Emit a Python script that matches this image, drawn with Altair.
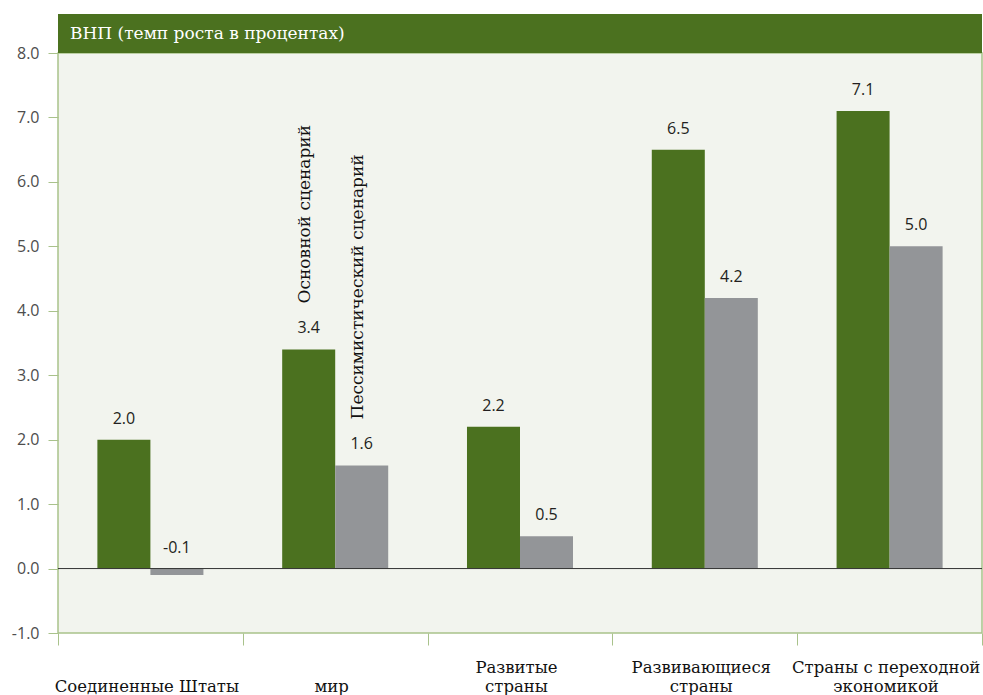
import altair as alt
import pandas as pd

categories = ["Соединенные Штаты", "мир", "Развитые\nстраны", "Развивающиеся\nстраны", "Страны с переходной\nэкономикой"]
series = ["Основной сценарий", "Пессимистический сценарий"]
baseline_vals = [2.0, 3.4, 2.2, 6.5, 7.1]
pessimistic_vals = [-0.1, 1.6, 0.5, 4.2, 5.0]
y_ticks = [-1, 0, 1, 2, 3, 4, 5, 6, 7, 8]
title_text = "ВНП (темп роста в процентах)"

rows = []
for c, b, p in zip(categories, baseline_vals, pessimistic_vals):
    rows.append({"cat": c, "series": series[0], "value": b, "lab": max(b, 0)})
    rows.append({"cat": c, "series": series[1], "value": p, "lab": max(p, 0)})
df = pd.DataFrame(rows)
df["text"] = df["value"].map(lambda v: f"{v:.1f}")

W, H = 924, 580
GREEN = "#4b711f"
GRAY = "#939598"
LIGHT = "#a9c28b"
SERIF = "DejaVu Serif"
SANS = "Open Sans"

x_label_expr = ("isValid(datum.value) ? (indexof(datum.value, '\\n') < 0 ? ['', datum.value] "
                ": split(datum.value, '\\n')) : ''")

xenc = alt.X("cat:N", sort=categories,
             scale=alt.Scale(paddingInner=0, paddingOuter=0),
             axis=alt.Axis(title=None, labelAngle=0, tickBand="extent",
                           labelExpr=x_label_expr, labelLimit=0, labelOffset=-4,
                           labelFont=SERIF, labelFontSize=16.5, labelColor="#111",
                           labelBaseline="top", labelLineHeight=19,
                           labelPadding=14, tickSize=12, tickColor=LIGHT,
                           domain=False, grid=False))
yscale = alt.Scale(domain=[-1, 8], nice=False)
xoff = alt.XOffset("series:N", sort=series,
                   scale=alt.Scale(paddingInner=0, paddingOuter=0.743))

y_label_expr = "datum.value < 0 ? '-' + format(-datum.value, '.1f') : format(datum.value, '.1f')"

bars = alt.Chart(df).mark_bar().encode(
    x=xenc,
    xOffset=xoff,
    y=alt.Y("value:Q", scale=yscale,
            axis=alt.Axis(title=None, values=y_ticks, labelExpr=y_label_expr,
                          labelFont=SANS, labelFontSize=16, labelColor="#4d4d4d",
                          tickSize=10, tickColor=LIGHT, labelPadding=9,
                          domain=False, grid=False)),
    y2=alt.datum(0),
    color=alt.Color("series:N", sort=series,
                    scale=alt.Scale(domain=series, range=[GREEN, GRAY]),
                    legend=None),
)

labels = alt.Chart(df).mark_text(font=SANS, fontSize=16, color="#231f20",
                                 baseline="middle", dy=-21).encode(
    x=alt.X("cat:N", sort=categories),
    xOffset=xoff,
    y=alt.Y("lab:Q", scale=yscale),
    text="text:N",
)

legend_df = df[df["cat"] == categories[1]]
legend_txt = alt.Chart(legend_df).mark_text(font=SERIF, fontSize=17, color="#111",
                                            angle=270, align="left", baseline="middle",
                                            dx=46, dy=-4).encode(
    x=alt.X("cat:N", sort=categories),
    xOffset=xoff,
    y=alt.Y("value:Q", scale=yscale),
    text="series:N",
)

zero = alt.Chart(pd.DataFrame({"z": [0]})).mark_rule(color="#333", strokeWidth=1).encode(
    y=alt.Y("z:Q", scale=yscale))

header = alt.Chart(pd.DataFrame({"t": [title_text]})).mark_rect(color=GREEN).encode(
    x=alt.value(0), x2=alt.value(W), y=alt.value(-39), y2=alt.value(0))
header_txt = alt.Chart(pd.DataFrame({"t": [title_text]})).mark_text(
    font=SERIF, fontSize=17, color="#ffffff", align="left", baseline="middle").encode(
    x=alt.value(12), y=alt.value(-19), text="t:N")

chart = alt.layer(bars, zero, labels, legend_txt, header, header_txt).properties(
    width=W, height=H,
    autosize=alt.AutoSizeParams(type="none"),
    padding={"left": 58, "top": 53, "right": 1, "bottom": 62},
    background="#ffffff",
).configure_view(fill="#f2f4ee", stroke=LIGHT, strokeWidth=1.5)

chart.save("out.html", embed_options={"renderer": "svg", "actions": False})
